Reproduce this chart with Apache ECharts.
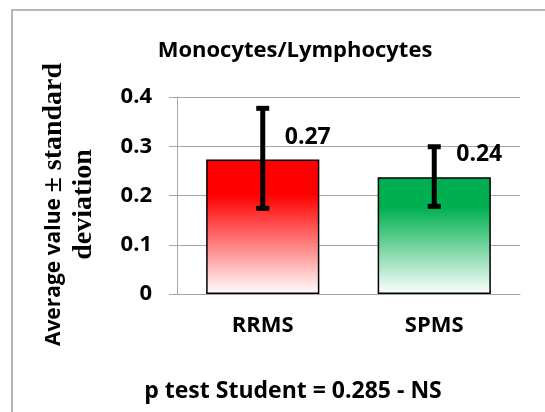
<!DOCTYPE html>
<html>
<head>
    <meta charset="UTF-8">
    <title>Monocytes/Lymphocytes</title>
    <script src="https://cdn.jsdelivr.net/npm/echarts@6.0.0/dist/echarts.min.js"></script>
    <style>
        * {
            margin: 0;
            padding: 0;
            box-sizing: border-box;
        }

        body {
            background: #ffffff;
        }

        #chart {
            width: 545px;
            height: 412px;
        }
    </style>
</head>
<body>
    <div id="chart"></div>

    <script>
        // 数据
        const categories = ['RRMS', 'SPMS'];
        const means = [0.273, 0.237];
        const errLow = [0.174, 0.178];
        const errHigh = [0.377, 0.299];
        const yTicks = [0, 0.1, 0.2, 0.3, 0.4];

        const sansFont = '"Open Sans"';
        const serifFont = '"Liberation Serif"';
        const gridGray = '#a6a6a6';

        function fade(color) {
            return new echarts.graphic.LinearGradient(0, 0, 0, 1, [
                { offset: 0, color: color },
                { offset: 0.26, color: color },
                { offset: 1, color: '#ffffff' }
            ]);
        }
        const barColors = [fade('#ff0000'), fade('#00b050')];

        const chart = echarts.init(document.getElementById('chart'));
        chart.setOption({
            animation: false,
            title: [{
                text: 'Monocytes/Lymphocytes',
                left: 290,
                top: 35,
                textAlign: 'center',
                textStyle: { fontFamily: sansFont, fontWeight: 'bold', fontSize: 22, color: '#000' }
            }, {
                text: 'p test Student = 0.285 - NS',
                left: 288,
                top: 375,
                textAlign: 'center',
                textStyle: { fontFamily: sansFont, fontWeight: 'bold', fontSize: 23, color: '#000' }
            }],
            graphic: [{
                type: 'rect',
                shape: { x: 12, y: 10, width: 700, height: 600 },
                style: { fill: 'none', stroke: '#a0a0a0', lineWidth: 1.5 },
                silent: true
            }],
            grid: {
                left: 177,
                right: 25,
                top: 97,
                bottom: 118
            },
            xAxis: {
                type: 'category',
                data: categories,
                axisLine: { lineStyle: { color: gridGray, width: 1 } },
                axisTick: { length: 9, lineStyle: { color: gridGray } },
                axisLabel: {
                    margin: 21,
                    fontFamily: sansFont,
                    fontWeight: 'bold',
                    fontSize: 22,
                    color: '#000'
                }
            },
            yAxis: {
                type: 'value',
                min: yTicks[0],
                max: yTicks[yTicks.length - 1],
                interval: 0.1,
                name: '{s|Average value }{r|± standard}\n{r|deviation}',
                nameLocation: 'middle',
                nameRotate: 90,
                nameGap: 78,
                nameTextStyle: {
                    lineHeight: 30,
                    padding: [0, 18, 0, 0],
                    rich: {
                        s: { fontFamily: sansFont, fontWeight: 'bold', fontSize: 21, color: '#000', lineHeight: 30 },
                        r: { fontFamily: serifFont, fontWeight: 'bold', fontSize: 28, color: '#000', lineHeight: 30 }
                    }
                },
                axisLine: { show: true, lineStyle: { color: gridGray } },
                axisTick: { show: true, length: 8, lineStyle: { color: gridGray } },
                splitLine: { lineStyle: { color: gridGray } },
                axisLabel: {
                    margin: 25,
                    fontFamily: sansFont,
                    fontWeight: 'bold',
                    fontSize: 22,
                    color: '#000'
                }
            },
            series: [{
                type: 'bar',
                barWidth: '66%',
                data: means.map((v, i) => ({
                    value: v,
                    itemStyle: { color: barColors[i] }
                })),
                itemStyle: { borderColor: '#000', borderWidth: 1.5 },
                label: {
                    show: true,
                    position: 'top',
                    offset: [45, -6],
                    formatter: p => p.value.toFixed(2),
                    fontFamily: sansFont,
                    fontWeight: 'bold',
                    fontSize: 23,
                    color: '#000'
                }
            }, {
                // 误差线
                type: 'custom',
                data: categories.map((c, i) => [i, errLow[i], errHigh[i]]),
                z: 5,
                renderItem: function (params, api) {
                    const lo = api.coord([api.value(0), api.value(1)]);
                    const hi = api.coord([api.value(0), api.value(2)]);
                    const half = 6.5;
                    const style = { stroke: '#000', lineWidth: 5 };
                    return {
                        type: 'group',
                        children: [
                            { type: 'line', shape: { x1: hi[0], y1: hi[1], x2: lo[0], y2: lo[1] }, style: style },
                            { type: 'line', shape: { x1: hi[0] - half, y1: hi[1], x2: hi[0] + half, y2: hi[1] }, style: style },
                            { type: 'line', shape: { x1: lo[0] - half, y1: lo[1], x2: lo[0] + half, y2: lo[1] }, style: style }
                        ]
                    };
                }
            }]
        });
    </script>
</body>
</html>
